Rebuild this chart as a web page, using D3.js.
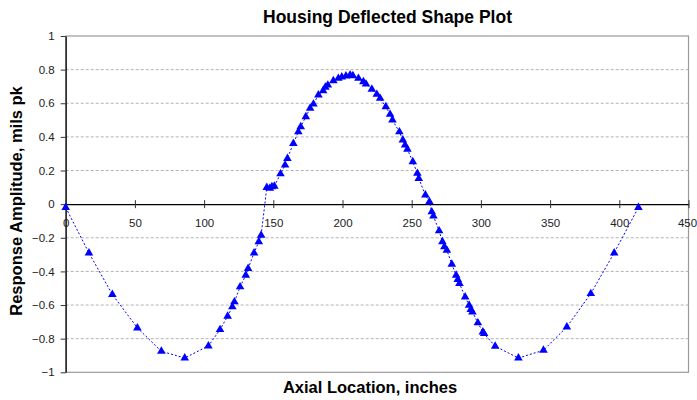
<!DOCTYPE html>
<meta charset="utf-8">

<!-- Load d3.js -->
<script src="https://d3js.org/d3.v7.min.js"></script>

<style>
  body { margin: 0; background: #fff; }
  text { font-family: "Liberation Sans", Arial, sans-serif; }
</style>

<!-- Create a div where the graph will take place -->
<div id="dataVis"></div>

<script>
// axial location (inches) of each measurement
var axialLocation = [0, 16.8, 33.7, 51.8, 69.1, 86, 103.1, 111.5, 117, 120.4, 121.9, 126,
  130.1, 131.8, 136.1, 139.5, 141.2, 145.3, 147.5, 149, 150.8, 155.2, 158.5, 160.2, 164.5,
  168.1, 169.8, 173.5, 176.6, 179, 182.6, 186, 187.6, 189.4, 193.4, 197, 199.5, 202.5,
  205.5, 207.5, 211.5, 215.1, 217, 221.2, 224.8, 227.2, 231.3, 234.4, 236.1, 241.1, 243.6,
  245.2, 246.9, 250.8, 254.1, 255.1, 259.9, 262.8, 264.5, 265.7, 269.8, 272.2, 273.6,
  275.4, 279, 282.1, 283.3, 284.5, 288.6, 291.5, 292.7, 293.9, 297.8, 301.4, 302.3, 310.3,
  327.1, 345.2, 362.1, 379.4, 396.3, 413.8];

// response amplitude (mils pk)
var amplitude = [-0.02, -0.29, -0.537, -0.736, -0.875, -0.915, -0.843, -0.746, -0.667, -0.611,
  -0.581, -0.492, -0.423, -0.383, -0.29, -0.224, -0.185, 0.099, 0.095, 0.103, 0.107, 0.18,
  0.232, 0.272, 0.361, 0.43, 0.46, 0.52, 0.57, 0.595, 0.649, 0.675, 0.695, 0.708, 0.734,
  0.748, 0.756, 0.762, 0.768, 0.764, 0.748, 0.728, 0.714, 0.683, 0.653, 0.629, 0.579, 0.534,
  0.5, 0.43, 0.381, 0.351, 0.326, 0.252, 0.183, 0.153, 0.054, 0.014, -0.046, -0.071, -0.159,
  -0.224, -0.254, -0.274, -0.357, -0.423, -0.448, -0.472, -0.552, -0.601, -0.627, -0.641,
  -0.706, -0.76, -0.77, -0.845, -0.915, -0.869, -0.73, -0.532, -0.29, -0.02];

var xTicks = [0, 50, 100, 150, 200, 250, 300, 350, 400, 450];
var yTicks = [1, 0.8, 0.6, 0.4, 0.2, 0, -0.2, -0.4, -0.6, -0.8, -1];

var data = axialLocation.map((d, i) => ({x: d, y: amplitude[i]}));

var width = 697, height = 400;

var x = d3.scaleLinear()
  .domain([0, 450])
  .range([65.7, 688.5]);

var y = d3.scaleLinear()
  .domain([-1, 1])
  .range([372.3, 36]);

var svg = d3.select('#dataVis')
  .append('svg')
    .attr('width', width)
    .attr('height', height);

// plot frame
svg.append('rect')
  .attr('x', x(0))
  .attr('y', y(1))
  .attr('width', x(450) - x(0))
  .attr('height', y(-1) - y(1))
  .attr('fill', 'none')
  .attr('stroke', '#999')
  .attr('stroke-width', 1.2);

// dashed gridlines
svg.append('g')
  .selectAll('line')
  .data(yTicks.filter(d => d !== 0 && Math.abs(d) !== 1))
  .enter().append('line')
    .attr('x1', x(0))
    .attr('x2', x(450))
    .attr('y1', d => y(d))
    .attr('y2', d => y(d))
    .attr('stroke', '#b3b3b3')
    .attr('stroke-width', 1)
    .attr('stroke-dasharray', '3,2');

// y axis
var yAxis = svg.append('g')
  .attr('transform', 'translate(' + x(0) + ',0)')
  .call(d3.axisLeft(y).tickValues(yTicks).tickSize(5).tickSizeOuter(0).tickPadding(6)
    .tickFormat(d => d3.format('')(+d.toFixed(1))));
yAxis.select('.domain').attr('stroke', '#000').attr('stroke-width', 1.2);
yAxis.selectAll('.tick line').attr('stroke', '#333');
yAxis.selectAll('.tick text')
  .attr('fill', '#222')
  .style('font-size', '11.5px')
  .style('font-family', '"Liberation Sans", Arial, sans-serif');

// x axis crossing at zero
var xAxis = svg.append('g')
  .attr('transform', 'translate(0,' + y(0) + ')')
  .call(d3.axisBottom(x).tickValues(xTicks).tickSizeOuter(0));
xAxis.select('.domain').attr('stroke', '#000').attr('stroke-width', 1.2);
xAxis.selectAll('.tick line')
  .attr('y1', -4)
  .attr('y2', 4)
  .attr('stroke', '#333');
xAxis.selectAll('.tick text')
  .attr('y', 23)
  .attr('dy', null)
  .attr('dx', d => d === 450 ? -1.5 : 0)
  .attr('fill', '#222')
  .style('font-size', '11.5px')
  .style('font-family', '"Liberation Sans", Arial, sans-serif');

// dashed connecting line
var line = d3.line()
  .x(d => x(d.x))
  .y(d => y(d.y));

svg.append('path')
  .datum(data)
  .attr('d', line)
  .attr('fill', 'none')
  .attr('stroke', '#0000ff')
  .attr('stroke-width', 1)
  .attr('stroke-dasharray', '2,2');

// triangle markers
svg.append('g')
  .selectAll('path')
  .data(data)
  .enter().append('path')
    .attr('transform', d => 'translate(' + x(d.x) + ',' + y(d.y) + ')')
    .attr('d', d3.symbol().type(d3.symbolTriangle).size(32))
    .attr('fill', '#0000ff');

// titles
svg.append('text')
  .attr('x', 387.5)
  .attr('y', 23)
  .attr('text-anchor', 'middle')
  .style('font-size', '17.5px')
  .style('font-weight', 'bold')
  .text('Housing Deflected Shape Plot');

svg.append('text')
  .attr('x', 370)
  .attr('y', 393)
  .attr('text-anchor', 'middle')
  .style('font-size', '16.5px')
  .style('font-weight', 'bold')
  .text('Axial Location, inches');

svg.append('text')
  .attr('transform', 'translate(22,201) rotate(-90)')
  .attr('text-anchor', 'middle')
  .style('font-size', '16.5px')
  .style('font-weight', 'bold')
  .text('Response Amplitude, mils pk');
</script>
